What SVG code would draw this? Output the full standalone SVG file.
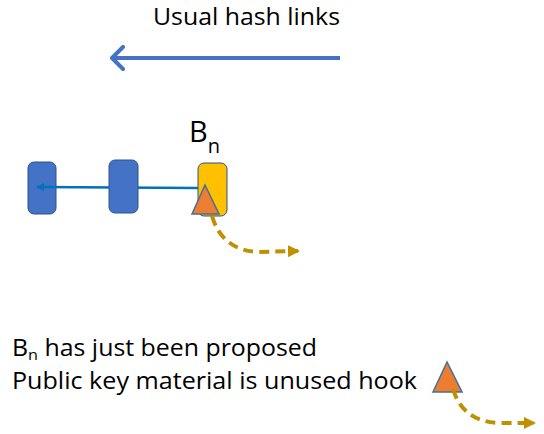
<svg xmlns="http://www.w3.org/2000/svg" width="544" height="434" viewBox="0 0 544 434">
  <style>
    .txt { font-family: "Open Sans", "Liberation Sans", sans-serif; fill: #000; }
    .block { fill: #4472C4; stroke: #2F528F; stroke-width: 1; }
    .hook { fill: #ED7D31; stroke: #41719C; stroke-width: 1.5; stroke-linejoin: miter; }
    .dash { fill: none; stroke: #BF9000; stroke-width: 4; stroke-dasharray: 10 6; }
  </style>
  <defs>
    <!-- open chevron for the hash-links arrow -->
    <marker id="chev" markerWidth="16" markerHeight="26" refX="13" refY="13" orient="auto" markerUnits="userSpaceOnUse">
      <path d="M2,2 L13,13 L2,24" fill="none" stroke="#4472C4" stroke-width="4" stroke-linecap="round" stroke-linejoin="round"/>
    </marker>
    <marker id="tip" markerWidth="8" markerHeight="8" refX="7" refY="4" orient="auto" markerUnits="userSpaceOnUse">
      <path d="M0,0 L8,4 L0,8 Z" fill="#0070C0"/>
    </marker>
    <marker id="gold" markerWidth="12" markerHeight="12" refX="10" refY="6" orient="auto" markerUnits="userSpaceOnUse">
      <path d="M0,0 L12,6 L0,12 Z" fill="#BF9000"/>
    </marker>
  </defs>

  <text class="txt" x="153" y="25" font-size="23" textLength="187" lengthAdjust="spacingAndGlyphs">Usual hash links</text>

  <g id="block1"><rect class="block" x="28" y="162" width="28" height="52" rx="6"/></g>

  <g id="connectors">
    <line x1="340" y1="58" x2="112" y2="58" stroke="#4472C4" stroke-width="4" marker-end="url(#chev)"/>
    <line x1="198" y1="188" x2="37" y2="187" stroke="#0070C0" stroke-width="2.5" marker-end="url(#tip)"/>
  </g>

  <g id="block2"><rect class="block" x="109" y="160" width="29" height="53" rx="6"/></g>
  <g id="blockn">
    <rect x="198" y="163" width="29" height="53" rx="6" fill="#FFC000" stroke="#2F528F" stroke-width="1"/>
    <text class="txt" x="189" y="142" font-size="29">B<tspan font-size="20" dy="11">n</tspan></text>
  </g>

  <g id="hook1"><polygon class="hook" points="205,185 192,214 219,214"/></g>
  <g id="hook2"><polygon class="hook" points="447,362 433,392 462,392"/></g>

  <g id="hook-links">
    <path class="dash" d="M212,216 Q222,250 258,252 L298,251" marker-end="url(#gold)"/>
    <path class="dash" d="M453,389 Q463,422 500,423 L534,423" marker-end="url(#gold)"/>
  </g>

  <g id="caption">
    <text class="txt" x="12" y="356" font-size="23" textLength="305" lengthAdjust="spacingAndGlyphs">B<tspan font-size="15" dy="4">n</tspan><tspan dy="-4"> has just been proposed</tspan></text>
    <text class="txt" x="12" y="389" font-size="23" textLength="405" lengthAdjust="spacingAndGlyphs">Public key material is unused hook</text>
  </g>
</svg>
